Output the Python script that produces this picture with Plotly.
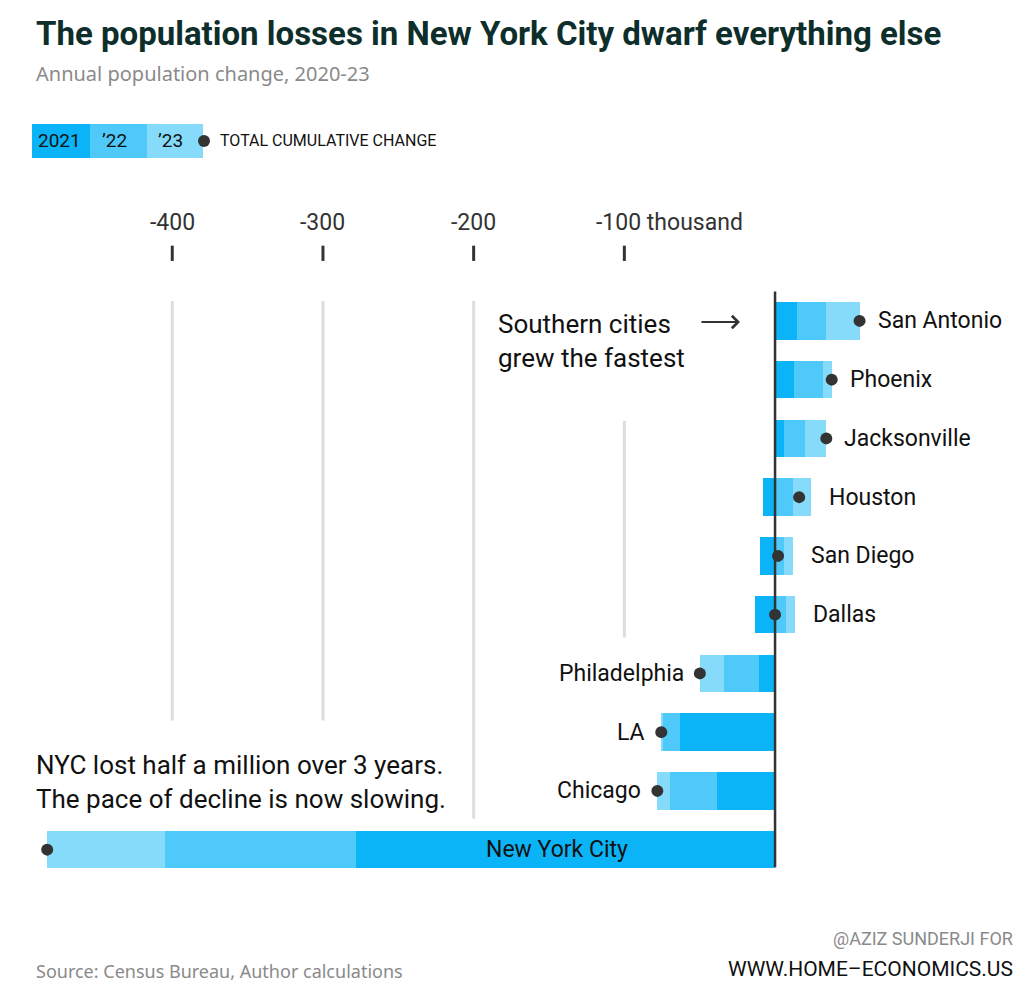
import plotly.graph_objects as go

cities = ["San Antonio", "Phoenix", "Jacksonville", "Houston", "San Diego", "Dallas",
          "Philadelphia", "LA", "Chicago", "New York City"]
y2021 = [14.6, 12.6, 6, -8, -10, -13, -10.6, -63, -38.5, -278]
y2022 = [19, 19, 14, 12, 6, 7, -23.3, -11.5, -31, -127]
y2023 = [22.5, 6, 14, 12, 6, 6, -16, -1, -8.6, -78]
ticks = [-400, -300, -200, -100]
tick_labels = ["-400", "-300", "-200", "-100 thousand"]

C1, C2, C3 = "#0bb4f7", "#4fc9f9", "#86dbfb"
FONT = "Liberation Sans Narrow, Roboto, sans-serif"
DARK = "#333333"
totals = [a + b + c for a, b, c in zip(y2021, y2022, y2023)]
ypos = list(range(len(cities)))

OX, OY = 8, 7
T, B = 173 - OY, 925 - OY
L, R = 30 - OX, 1013 - OX
def py(p):  # reference pixel -> paper y
    return (B - (p - OY)) / (B - T)
def px(p):  # reference pixel -> paper x
    return ((p - OX) - L) / (R - L)

fig = go.Figure()
for vals, col in [(y2021, C1), (y2022, C2), (y2023, C3)]:
    fig.add_trace(go.Bar(y=ypos, x=vals, orientation="h", marker_color=col,
                         marker_line_width=0, width=0.64, showlegend=False, hoverinfo="x"))
fig.add_trace(go.Scatter(y=ypos, x=totals, mode="markers",
                         marker=dict(color=DARK, size=12), showlegend=False))

shapes = []
grid_ext = {-400: 6.8, -300: 6.8, -200: 8.47, -100: 5.39}
grid_start = {-400: -0.34, -300: -0.34, -200: -0.34, -100: 1.7}
for t in ticks:
    shapes.append(dict(type="line", x0=t, x1=t, y0=grid_start[t], y1=grid_ext[t],
                       line=dict(color="#dddddd", width=3), layer="below"))
    shapes.append(dict(type="line", x0=t, x1=t, y0=-1.28, y1=-1.02,
                       line=dict(color=DARK, width=3)))
shapes.append(dict(type="line", x0=0, x1=0, y0=-0.5, y1=9.3, line=dict(color=DARK, width=2.5)))
for x0, x1, col in [(32, 90, C1), (90, 147, C2), (147, 203, C3)]:
    shapes.append(dict(type="rect", xref="paper", yref="paper", x0=px(x0), x1=px(x1),
                       y0=py(157), y1=py(123), fillcolor=col, line_width=0))
shapes.append(dict(type="circle", xref="paper", yref="paper", x0=px(198), x1=px(210),
                   y0=py(146), y1=py(134), fillcolor=DARK, line_width=0))

ann = []
for t, lab in zip(ticks, tick_labels):
    ann.append(dict(x=t, y=-1.67, text=lab, showarrow=False, xanchor="left" if "thousand" in lab else "center",
                    xshift=-30 if "thousand" in lab else 0, font=dict(size=23, color=DARK)))
for i, c in enumerate(cities):
    pos = sum(v for v in (y2021[i], y2022[i], y2023[i]) if v > 0)
    neg = sum(v for v in (y2021[i], y2022[i], y2023[i]) if v < 0)
    if c == "New York City":
        ann.append(dict(x=-145, y=i, text=c, showarrow=False, font=dict(size=23, color="#111")))
    elif totals[i] >= 0:
        ann.append(dict(x=max(pos, totals[i]), y=i, text=c, showarrow=False, xanchor="left",
                        xshift=16, font=dict(size=23, color="#111")))
    else:
        ann.append(dict(x=min(neg, totals[i]), y=i, text=c, showarrow=False, xanchor="right",
                        xshift=-14, font=dict(size=23, color="#111")))

def pa(x, y, text, size, color, anchor="left", **kw):
    ann.append(dict(xref="paper", yref="paper", x=px(x), y=py(y), text=text, showarrow=False,
                    xanchor=anchor, yanchor="middle", font=dict(size=size, color=color, family=kw.pop("family", FONT)), **kw))

pa(34, 32, "<b>The population losses in New York City dwarf everything else</b>", 33, "#0d2e2b",
   family="Roboto, sans-serif")
pa(34, 73, "Annual population change, 2020-23", 20, "#8a8a8a", family="Noto Sans, sans-serif")
pa(36, 140, "2021", 19, "#111")
pa(100, 140, "’22", 19, "#111")
pa(156, 140, "’23", 19, "#111")
pa(218, 140, "TOTAL CUMULATIVE CHANGE", 16, "#111")
pa(496, 340, "Southern cities<br>grew the fastest", 26, "#111", align="left")
pa(34, 781, "NYC lost half a million over 3 years.<br>The pace of decline is now slowing.", 26, "#111", align="left")
pa(34, 970, "Source: Census Bureau, Author calculations", 18, "#8a8a8a", family="Noto Sans, sans-serif")
pa(1015, 937, "@AZIZ SUNDERJI FOR", 18, "#8a8a8a", anchor="right")
pa(1015, 968, "WWW.HOME–ECONOMICS.US", 21, "#111", anchor="right")
ann.append(dict(xref="paper", yref="paper", x=px(740), y=py(321), ax=-40, ay=0,
                text="", showarrow=True, arrowhead=4,
                arrowsize=1.2, arrowwidth=2, arrowcolor=DARK))

fig.update_layout(
    barmode="relative", width=1033, height=988, plot_bgcolor="white", paper_bgcolor="white",
    margin=dict(l=L, r=1033 - R, t=T, b=988 - B), font=dict(family=FONT),
    xaxis=dict(range=[-494.4, 157.9], visible=False, fixedrange=True),
    yaxis=dict(range=[10.3, -2.5], visible=False),
    shapes=shapes, annotations=ann, bargap=0)
fig.write_html("out.html")
